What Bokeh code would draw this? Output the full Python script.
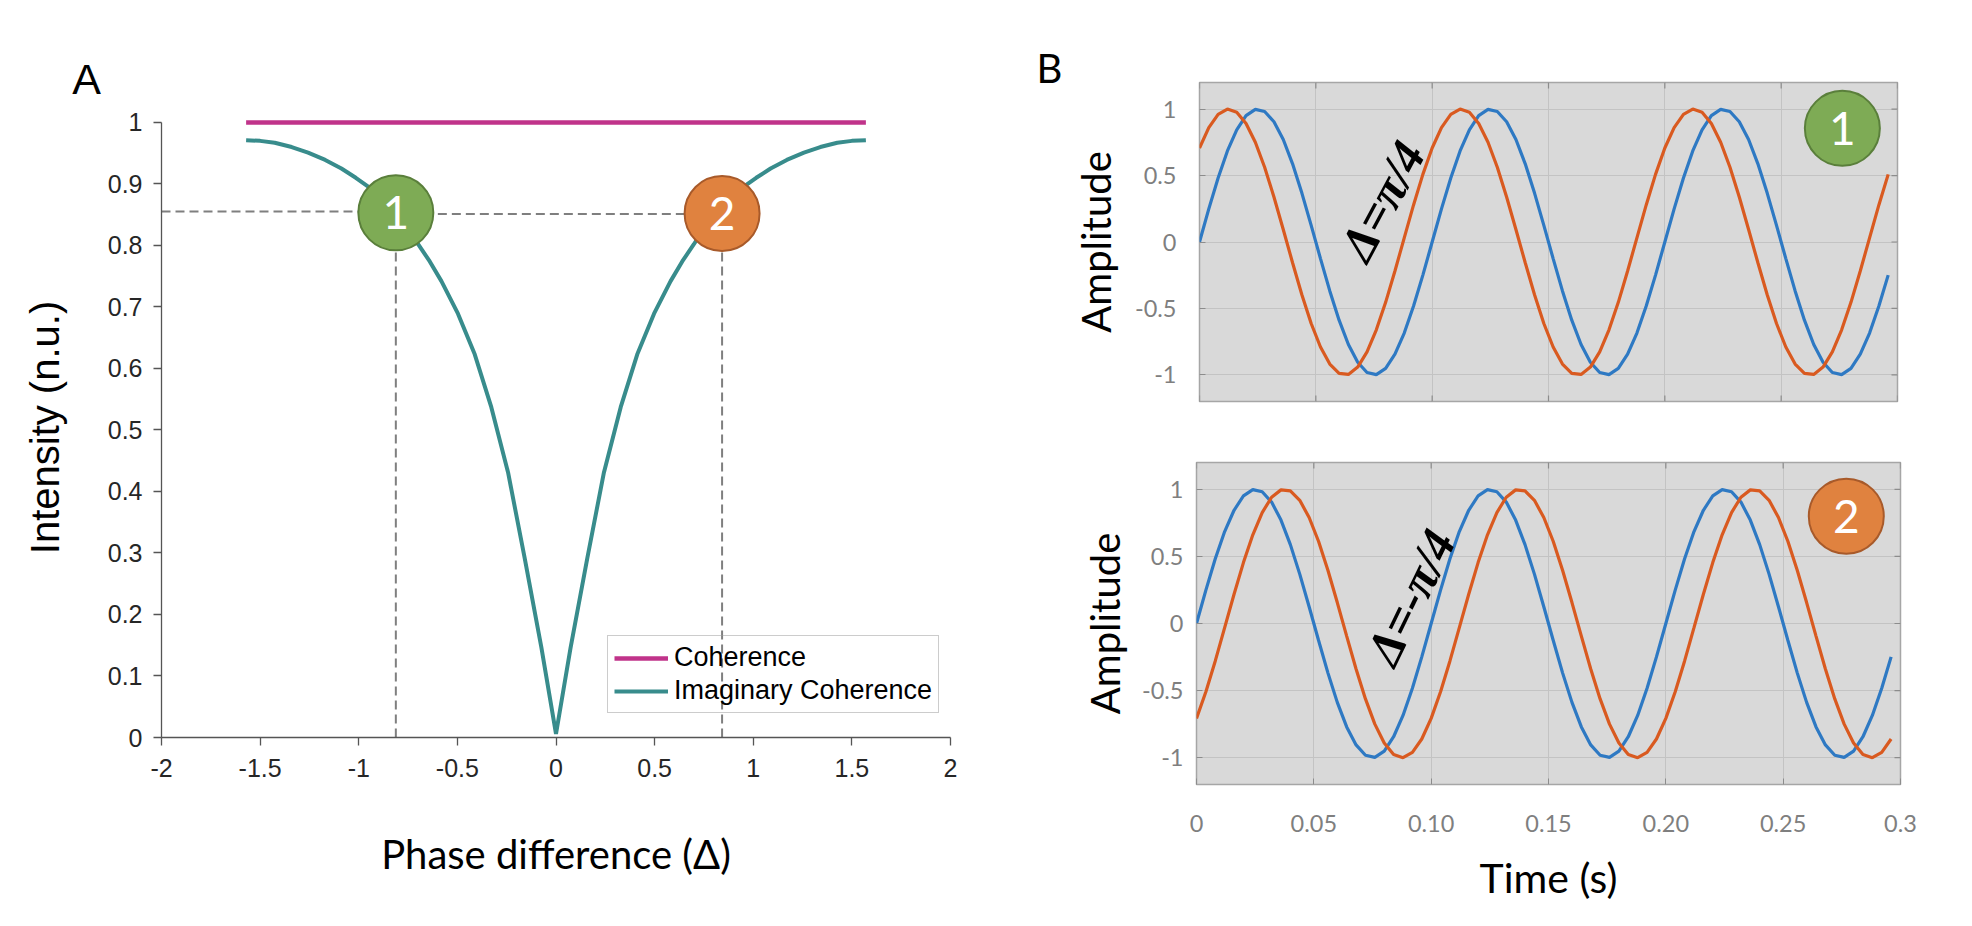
import math
from bokeh.plotting import figure
from bokeh.models import Range1d, FixedTicker, Label, Legend, LegendItem
from bokeh.layouts import row, column
from bokeh.core.properties import value
from bokeh.embed import file_html
from bokeh.resources import INLINE

# ---------------- Panel A data ----------------
phase = [-1.571, -1.50, -1.426, -1.34, -1.257, -1.17, -1.088, -1.015, -0.945, -0.875,
         -0.812, -0.755, -0.699, -0.64, -0.581, -0.497, -0.412, -0.328, -0.243, -0.159,
         -0.074, 0.0,
         0.074, 0.159, 0.243, 0.328, 0.412, 0.497, 0.581, 0.64, 0.699, 0.755,
         0.812, 0.875, 0.945, 1.015, 1.088, 1.17, 1.257, 1.34, 1.426, 1.50, 1.571]
imag_coherence = [0.971, 0.970, 0.967, 0.960, 0.951, 0.939, 0.925, 0.910, 0.894, 0.874,
                  0.853, 0.830, 0.802, 0.774, 0.742, 0.689, 0.623, 0.537, 0.431, 0.292,
                  0.146, 0.006,
                  0.146, 0.292, 0.431, 0.537, 0.623, 0.689, 0.742, 0.774, 0.802, 0.830,
                  0.853, 0.874, 0.894, 0.910, 0.925, 0.939, 0.951, 0.960, 0.967, 0.970, 0.971]
coh_phase = [-1.571, 1.571]
coherence = [1.0, 1.0]

x_ticks_a = [-2, -1.5, -1, -0.5, 0, 0.5, 1, 1.5, 2]
x_labels_a = ["-2", "-1.5", "-1", "-0.5", "0", "0.5", "1", "1.5", "2"]
y_ticks_a = [0, 0.1, 0.2, 0.3, 0.4, 0.5, 0.6, 0.7, 0.8, 0.9, 1]
y_labels_a = ["0", "0.1", "0.2", "0.3", "0.4", "0.5", "0.6", "0.7", "0.8", "0.9", "1"]

marker_phase = [-0.812, 0.842]
marker_level = [0.853, 0.852]
marker_text = ["1", "2"]
guide_left_level = 0.855
guide_mid_level = 0.851

panel_labels = ["A", "B"]

# ---------------- Panel B data ----------------
time = [0.000, 0.004, 0.008, 0.012, 0.016, 0.020, 0.024, 0.028, 0.032, 0.036,
        0.040, 0.044, 0.048, 0.052, 0.056, 0.060, 0.064, 0.068, 0.072, 0.076,
        0.080, 0.084, 0.088, 0.092, 0.096, 0.100, 0.104, 0.108, 0.112, 0.116,
        0.120, 0.124, 0.128, 0.132, 0.136, 0.140, 0.144, 0.148, 0.152, 0.156,
        0.160, 0.164, 0.168, 0.172, 0.176, 0.180, 0.184, 0.188, 0.192, 0.196,
        0.200, 0.204, 0.208, 0.212, 0.216, 0.220, 0.224, 0.228, 0.232, 0.236,
        0.240, 0.244, 0.248, 0.252, 0.256, 0.260, 0.264, 0.268, 0.272, 0.276,
        0.280, 0.284, 0.288, 0.292, 0.296]

signal_ref = [0.000, 0.249, 0.482, 0.685, 0.844, 0.951, 0.998, 0.982, 0.905, 0.771,
              0.588, 0.368, 0.125, -0.125, -0.368, -0.588, -0.771, -0.905, -0.982, -0.998,
              -0.951, -0.844, -0.685, -0.482, -0.249,
              0.000, 0.249, 0.482, 0.685, 0.844, 0.951, 0.998, 0.982, 0.905, 0.771,
              0.588, 0.368, 0.125, -0.125, -0.368, -0.588, -0.771, -0.905, -0.982, -0.998,
              -0.951, -0.844, -0.685, -0.482, -0.249,
              0.000, 0.249, 0.482, 0.685, 0.844, 0.951, 0.998, 0.982, 0.905, 0.771,
              0.588, 0.368, 0.125, -0.125, -0.368, -0.588, -0.771, -0.905, -0.982, -0.998,
              -0.951, -0.844, -0.685, -0.482, -0.249]

signal_lead = [0.707, 0.861, 0.960, 1.000, 0.976, 0.891, 0.750, 0.562, 0.339, 0.094,
               -0.156, -0.397, -0.613, -0.790, -0.918, -0.988, -0.996, -0.941, -0.827, -0.661,
               -0.454, -0.218, 0.031, 0.279, 0.509,
               0.707, 0.861, 0.960, 1.000, 0.976, 0.891, 0.750, 0.562, 0.339, 0.094,
               -0.156, -0.397, -0.613, -0.790, -0.918, -0.988, -0.996, -0.941, -0.827, -0.661,
               -0.454, -0.218, 0.031, 0.279, 0.509,
               0.707, 0.861, 0.960, 1.000, 0.976, 0.891, 0.750, 0.562, 0.339, 0.094,
               -0.156, -0.397, -0.613, -0.790, -0.918, -0.988, -0.996, -0.941, -0.827, -0.661,
               -0.454, -0.218, 0.031, 0.279, 0.509]

signal_lag = [-0.707, -0.509, -0.279, -0.031, 0.218, 0.454, 0.661, 0.827, 0.941, 0.996,
              0.988, 0.918, 0.790, 0.613, 0.397, 0.156, -0.094, -0.339, -0.562, -0.750,
              -0.891, -0.976, -1.000, -0.960, -0.861,
              -0.707, -0.509, -0.279, -0.031, 0.218, 0.454, 0.661, 0.827, 0.941, 0.996,
              0.988, 0.918, 0.790, 0.613, 0.397, 0.156, -0.094, -0.339, -0.562, -0.750,
              -0.891, -0.976, -1.000, -0.960, -0.861,
              -0.707, -0.509, -0.279, -0.031, 0.218, 0.454, 0.661, 0.827, 0.941, 0.996,
              0.988, 0.918, 0.790, 0.613, 0.397, 0.156, -0.094, -0.339, -0.562, -0.750,
              -0.891, -0.976, -1.000, -0.960, -0.861]

time_limits = [0, 0.3]
amp_limits = [-1.2, 1.2]
t_ticks = [0, 0.05, 0.1, 0.15, 0.2, 0.25, 0.3]
t_labels = ["0", "0.05", "0.10", "0.15", "0.20", "0.25", "0.3"]
amp_ticks = [-1, -0.5, 0, 0.5, 1]
amp_labels = ["-1", "-0.5", "0", "0.5", "1"]

badge_top = ([0.2763], [0.855], ["1"])
badge_bottom = ([0.2769], [0.80], ["2"])
delta_top = (0.0785, 0.31, "Δ=π/4")
delta_bottom = (0.0912, 0.196, "Δ=-π/4")

# ---------------- styles ----------------
MAGENTA = "#C0338A"
TEAL = "#388C8C"
BLUE = "#2E79C3"
ORANGE = "#D95A20"
GREEN_FILL, GREEN_LINE = "#7EAB55", "#5A7F3B"
ORANGE_FILL, ORANGE_LINE = "#E0823F", "#A85A2A"
GUIDE = "#7f7f7f"
TICK_B = "#8c8c8c"


def label_canvas(width, height, text, x, y, font, size):
    h = figure(width=width, height=height, x_range=Range1d(0, width), y_range=Range1d(0, height),
               output_backend="svg", toolbar_location=None, min_border=0, frame_align=False,
               x_axis_location=None, y_axis_location=None)
    h.outline_line_color = None
    h.grid.visible = False
    h.text(x=[x], y=[y], text=[text], text_font=value(font), text_font_size=size,
           text_color="black", text_align="center", text_baseline="middle")
    return h


# ================= Panel A =================
headA = label_canvas(1000, 105, panel_labels[0], 86, 27, "Liberation Sans", "43px")

pA = figure(width=1000, height=821, x_range=Range1d(-2, 2), y_range=Range1d(0, 1.008),
            output_backend="svg", toolbar_location=None, frame_align=False,
            min_border_left=161, min_border_right=50, min_border_top=12, min_border_bottom=189)
pA.outline_line_color = None
pA.grid.visible = False

r_coh = pA.line(coh_phase, coherence, line_color=MAGENTA, line_width=4.5)
r_imag = pA.line(phase, imag_coherence, line_color=TEAL, line_width=4)

pA.line([x_ticks_a[0], marker_phase[0]], [guide_left_level, guide_left_level],
        line_color=GUIDE, line_width=2, line_dash="9 5")
pA.line([marker_phase[0], marker_phase[1]], [guide_mid_level, guide_mid_level],
        line_color=GUIDE, line_width=2, line_dash="9 5")
pA.segment(x0=marker_phase, y0=[0, 0], x1=marker_phase, y1=marker_level,
           line_color=GUIDE, line_width=2, line_dash="9 5")

pA.scatter(marker_phase, marker_level, marker="circle", size=75,
           fill_color=[GREEN_FILL, ORANGE_FILL], line_color=[GREEN_LINE, ORANGE_LINE], line_width=2)
pA.text(x=marker_phase, y=marker_level, text=marker_text, text_font=value("Lato"),
        text_font_size="46px", text_color="white", text_align="center", text_baseline="middle")

legend = Legend(items=[LegendItem(label="Coherence", renderers=[r_coh]),
                       LegendItem(label="Imaginary Coherence", renderers=[r_imag])],
                location=(446, 24), label_text_font="Liberation Sans", label_text_font_size="27px",
                label_text_color="black", glyph_width=54, glyph_height=20, label_standoff=6,
                padding=6, spacing=2, margin=0, border_line_color="#9a9a9a",
                border_line_width=1.3, background_fill_alpha=0.0)
pA.add_layout(legend)

for ax in (pA.xaxis[0], pA.yaxis[0]):
    ax.major_label_text_font = "Liberation Sans"
    ax.major_label_text_font_size = "25px"
    ax.major_label_text_color = "#262626"
    ax.major_tick_in = 0
    ax.major_tick_out = 8
    ax.minor_tick_line_color = None
    ax.axis_line_color = "#555555"
    ax.major_tick_line_color = "#555555"
    ax.axis_line_width = 1.3
    ax.major_tick_line_width = 1.3
    ax.axis_label_text_font_style = "normal"
    ax.axis_label_text_color = "black"

pA.xaxis.ticker = FixedTicker(ticks=x_ticks_a)
pA.xaxis.major_label_overrides = dict(zip(x_ticks_a, x_labels_a))
pA.xaxis.major_label_standoff = 13
pA.xaxis.axis_label = "Phase difference (Δ)"
pA.xaxis.axis_label_text_font = "Lato"
pA.xaxis.axis_label_text_font_size = "40px"
pA.xaxis.axis_label_standoff = 50

pA.yaxis.ticker = FixedTicker(ticks=y_ticks_a)
pA.yaxis.major_label_overrides = dict(zip(y_ticks_a, y_labels_a))
pA.yaxis.major_label_standoff = 11
pA.yaxis.bounds = (0, 1)
pA.yaxis.axis_label = "Intensity (n.u.)"
pA.yaxis.axis_label_text_font = "Liberation Sans"
pA.yaxis.axis_label_text_font_size = "40px"
pA.yaxis.axis_label_standoff = 38

colA = column(headA, pA, spacing=0)


# ================= Panel B =================
def wave_panel(height, left, right, top, bottom, lagging, badge, badge_cols, delta,
               show_time, ylabel_standoff, ytick_standoff, delta_angle):
    p = figure(width=907, height=height, x_range=Range1d(*time_limits), y_range=Range1d(*amp_limits),
               output_backend="svg", toolbar_location=None, frame_align=False,
               x_axis_location="below" if show_time else None,
               min_border_left=left, min_border_right=right,
               min_border_top=top, min_border_bottom=bottom)
    p.background_fill_color = "#d9d9d9"
    p.outline_line_color = "#a6a6a6"
    p.outline_line_width = 1.5
    p.xgrid.ticker = FixedTicker(ticks=t_ticks)
    p.ygrid.ticker = FixedTicker(ticks=amp_ticks)
    p.grid.grid_line_color = "#c3c3c3"
    p.grid.grid_line_width = 1

    # inward tick marks on the box edges without labels
    p.scatter(t_ticks, [amp_limits[1]] * len(t_ticks), marker="dash", angle=math.pi / 2,
              size=12, line_color=TICK_B, line_width=1.2)
    if not show_time:
        p.scatter(t_ticks, [amp_limits[0]] * len(t_ticks), marker="dash", angle=math.pi / 2,
                  size=12, line_color=TICK_B, line_width=1.2)
    p.scatter([time_limits[1]] * len(amp_ticks), amp_ticks, marker="dash",
              size=12, line_color=TICK_B, line_width=1.2)

    p.line(time, signal_ref, line_color=BLUE, line_width=3.2)
    p.line(time, lagging, line_color=ORANGE, line_width=3.2)

    p.scatter(badge[0], badge[1], marker="circle", size=75,
              fill_color=badge_cols[0], line_color=badge_cols[1], line_width=2)
    p.text(x=badge[0], y=badge[1], text=badge[2], text_font=value("Lato"),
           text_font_size="46px", text_color="white", text_align="center", text_baseline="middle")

    p.add_layout(Label(x=delta[0], y=delta[1], text=delta[2], angle=delta_angle,
                       text_font="Liberation Serif", text_font_style="bold italic",
                       text_font_size="50px", text_align="center", text_baseline="middle",
                       text_color="black"))

    axes = [p.yaxis[0]] + ([p.xaxis[0]] if show_time else [])
    for ax in axes:
        ax.major_tick_in = 6
        ax.major_tick_out = 0
        ax.minor_tick_line_color = None
        ax.axis_line_color = None
        ax.major_tick_line_color = TICK_B
        ax.major_label_text_font = "Lato"
        ax.major_label_text_font_size = "23.5px"
        ax.major_label_text_color = "#7f7f7f"
        ax.axis_label_text_font_style = "normal"
        ax.axis_label_text_color = "black"
        ax.axis_label_text_font = "Lato"

    if show_time:
        p.xaxis.ticker = FixedTicker(ticks=t_ticks)
        p.xaxis.major_label_overrides = dict(zip(t_ticks, t_labels))
        p.xaxis.major_label_standoff = 30
        p.xaxis.axis_label = "Time (s)"
        p.xaxis.axis_label_text_font_size = "41px"
        p.xaxis.axis_label_standoff = 18

    p.yaxis.ticker = FixedTicker(ticks=amp_ticks)
    p.yaxis.major_label_overrides = dict(zip(amp_ticks, amp_labels))
    p.yaxis.major_label_standoff = ytick_standoff
    p.yaxis.axis_label = "Amplitude"
    p.yaxis.axis_label_text_font_size = "40px"
    p.yaxis.axis_label_standoff = ylabel_standoff
    return p


stripB = label_canvas(65, 926, panel_labels[1], 49, 859, "Lato", "40px")

pB1 = wave_panel(430, 134, 75, 82, 29, signal_lead, badge_top, (GREEN_FILL, GREEN_LINE),
                 delta_top, False, 12, 23, 1.08)
pB2 = wave_panel(496, 131, 72, 32, 142, signal_lag, badge_bottom, (ORANGE_FILL, ORANGE_LINE),
                 delta_bottom, True, 10, 13, 1.12)

colB = column(pB1, pB2, spacing=0)

layout = row(colA, stripB, colB, spacing=0)

open("out.html", "w").write(file_html(layout, INLINE))
